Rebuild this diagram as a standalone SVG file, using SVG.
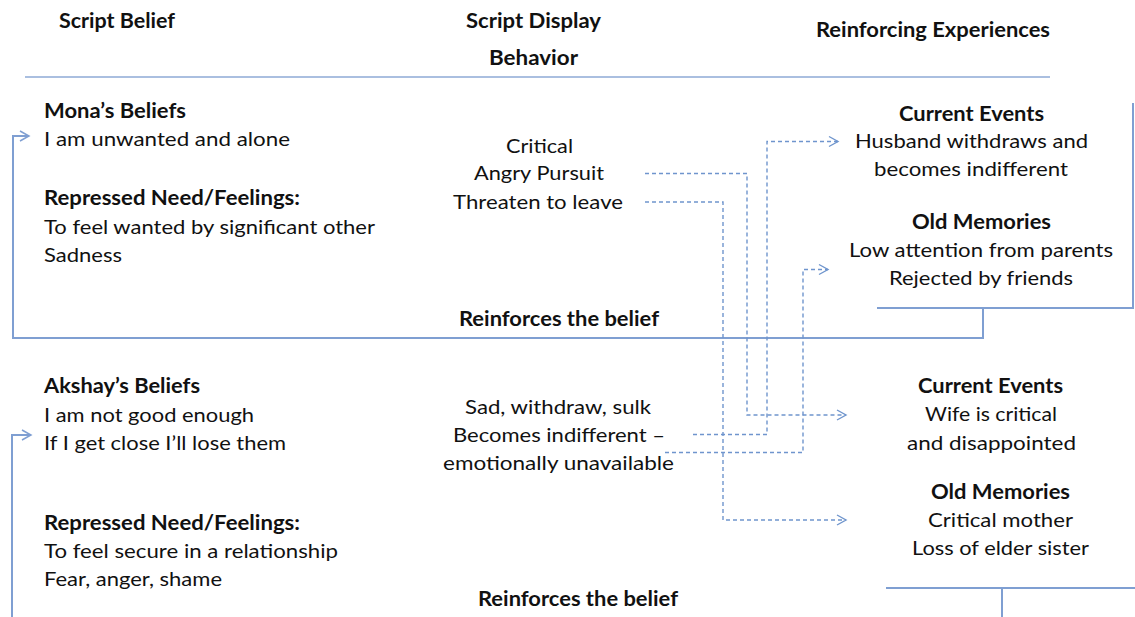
<svg xmlns="http://www.w3.org/2000/svg" width="1135" height="617" viewBox="0 0 1135 617">
  <style>
    text { font-family: Lato, "Liberation Sans", sans-serif; font-size: 20px; fill: #111; }
    .b { font-weight: 700; }
    .rule { stroke: #8eaad6; stroke-width: 1.6; fill: none; }
    .loop { stroke: #7f9fd2; stroke-width: 2; fill: none; }
    .dash { stroke: #6f95cd; stroke-width: 1.4; fill: none; stroke-dasharray: 4 3; }
  </style>
  <defs>
    <marker id="chev" markerUnits="userSpaceOnUse" markerWidth="14" markerHeight="14" refX="10" refY="6" orient="auto" overflow="visible">
      <path d="M1,1 L10,6 L1,11" fill="none" stroke="#6f95cd" stroke-width="1.4" stroke-dasharray="none"/>
    </marker>
    <marker id="chevSolid" markerUnits="userSpaceOnUse" markerWidth="14" markerHeight="14" refX="10" refY="6" orient="auto" overflow="visible">
      <path d="M1,1 L10,6 L1,11" fill="none" stroke="#7f9fd2" stroke-width="1.5"/>
    </marker>
  </defs>

  <rect width="1135" height="617" fill="#fff"/>

  <!-- column headings -->
  <g id="headers">
    <text class="b" x="59" y="27.5" textLength="116" lengthAdjust="spacingAndGlyphs">Script Belief</text>
    <text class="b" x="466" y="27.5" textLength="135" lengthAdjust="spacingAndGlyphs">Script Display</text>
    <text class="b" x="489" y="64.5" textLength="89" lengthAdjust="spacingAndGlyphs">Behavior</text>
    <text class="b" x="816" y="37" textLength="234" lengthAdjust="spacingAndGlyphs">Reinforcing Experiences</text>
    <line class="rule" x1="25" y1="77" x2="1050" y2="77"/>
  </g>

  <!-- Mona -->
  <g id="mona-beliefs">
    <text class="b" x="44" y="117.5" textLength="142" lengthAdjust="spacingAndGlyphs">Mona’s Beliefs</text>
    <text x="44" y="146" textLength="246" lengthAdjust="spacingAndGlyphs">I am unwanted and alone</text>
    <text class="b" x="44" y="205" textLength="256" lengthAdjust="spacingAndGlyphs">Repressed Need/Feelings:</text>
    <text x="44" y="233.5" textLength="331" lengthAdjust="spacingAndGlyphs">To feel wanted by significant other</text>
    <text x="44" y="261.5" textLength="78" lengthAdjust="spacingAndGlyphs">Sadness</text>
  </g>
  <g id="mona-behavior">
    <text x="506" y="152.5" textLength="67" lengthAdjust="spacingAndGlyphs">Critical</text>
    <text x="474" y="180" textLength="130" lengthAdjust="spacingAndGlyphs">Angry Pursuit</text>
    <text x="453" y="209" textLength="170" lengthAdjust="spacingAndGlyphs">Threaten to leave</text>
  </g>
  <g id="mona-experiences">
    <text class="b" x="899" y="120.5" textLength="145" lengthAdjust="spacingAndGlyphs">Current Events</text>
    <text x="855" y="148" textLength="233" lengthAdjust="spacingAndGlyphs">Husband withdraws and</text>
    <text x="874" y="176" textLength="194" lengthAdjust="spacingAndGlyphs">becomes indifferent</text>
    <text class="b" x="912" y="228.5" textLength="139" lengthAdjust="spacingAndGlyphs">Old Memories</text>
    <text x="849" y="256.5" textLength="264" lengthAdjust="spacingAndGlyphs">Low attention from parents</text>
    <text x="889" y="285" textLength="184" lengthAdjust="spacingAndGlyphs">Rejected by friends</text>
    <path class="loop" d="M1133,103 V308 H877"/>
  </g>
  <g id="mona-reinforce">
    <text class="b" x="459" y="326" textLength="200" lengthAdjust="spacingAndGlyphs">Reinforces the belief</text>
  </g>

  <!-- Akshay -->
  <g id="akshay-beliefs">
    <text class="b" x="44" y="393" textLength="156" lengthAdjust="spacingAndGlyphs">Akshay’s Beliefs</text>
    <text x="44" y="421.5" textLength="210" lengthAdjust="spacingAndGlyphs">I am not good enough</text>
    <text x="44" y="449.5" textLength="242" lengthAdjust="spacingAndGlyphs">If I get close I’ll lose them</text>
    <text class="b" x="44" y="530" textLength="256" lengthAdjust="spacingAndGlyphs">Repressed Need/Feelings:</text>
    <text x="44" y="558" textLength="294" lengthAdjust="spacingAndGlyphs">To feel secure in a relationship</text>
    <text x="44" y="586" textLength="178" lengthAdjust="spacingAndGlyphs">Fear, anger, shame</text>
  </g>
  <g id="akshay-behavior">
    <text x="465" y="413.5" textLength="186" lengthAdjust="spacingAndGlyphs">Sad, withdraw, sulk</text>
    <text x="453" y="441.5" textLength="212" lengthAdjust="spacingAndGlyphs">Becomes indifferent –</text>
    <text x="443" y="469.5" textLength="231" lengthAdjust="spacingAndGlyphs">emotionally unavailable</text>
  </g>
  <g id="akshay-experiences">
    <text class="b" x="918" y="393" textLength="145" lengthAdjust="spacingAndGlyphs">Current Events</text>
    <text x="925" y="421" textLength="132" lengthAdjust="spacingAndGlyphs">Wife is critical</text>
    <text x="907" y="449.5" textLength="169" lengthAdjust="spacingAndGlyphs">and disappointed</text>
    <text class="b" x="931" y="498.5" textLength="139" lengthAdjust="spacingAndGlyphs">Old Memories</text>
    <text x="928" y="527" textLength="145" lengthAdjust="spacingAndGlyphs">Critical mother</text>
    <text x="912" y="555" textLength="177" lengthAdjust="spacingAndGlyphs">Loss of elder sister</text>
    <path class="loop" d="M886,588 H1135"/>
  </g>
  <g id="akshay-reinforce">
    <text class="b" x="478" y="606" textLength="200" lengthAdjust="spacingAndGlyphs">Reinforces the belief</text>
  </g>

  <!-- connectors -->
  <g id="connectors">
    <!-- feedback loops back to each belief -->
    <path class="loop" d="M983,308 V338 H13 V136 H29" marker-end="url(#chevSolid)"/>
    <path class="loop" d="M1002,617 V588"/>
    <path class="loop" d="M12,617 V435 H31" marker-end="url(#chevSolid)"/>
    <!-- behaviours feeding the partner's experiences -->
    <path class="dash" d="M645,173.5 H747 V415 H846" marker-end="url(#chev)"/>
    <path class="dash" d="M645,202 H723 V520 H846" marker-end="url(#chev)"/>
    <path class="dash" d="M693,434.5 H767 V141.5 H838" marker-end="url(#chev)"/>
    <path class="dash" d="M665,452.5 H803 V269.5 H828" marker-end="url(#chev)"/>
  </g>
</svg>
